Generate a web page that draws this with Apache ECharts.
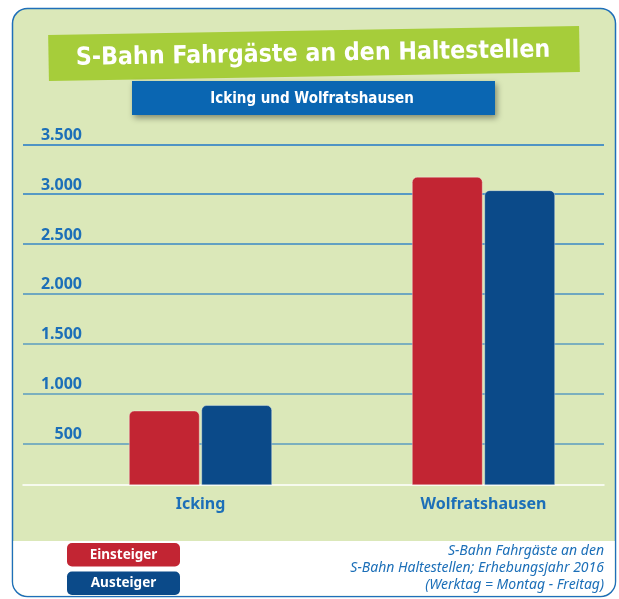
<!DOCTYPE html>
<html>
<head>
<meta charset="utf-8">
<script src="https://cdn.jsdelivr.net/npm/echarts@6/dist/echarts.min.js"></script>
<style>
  html, body { margin: 0; padding: 0; background: #fff; }
  #chart { width: 619px; height: 599px; }
</style>
</head>
<body>
<div id="chart"></div>
<script>
// Daten
var categories = ['Icking', 'Wolfratshausen'];
var seriesNames = ['Einsteiger', 'Austeiger'];
var seriesColors = ['#c22533', '#0b4a89'];
var einsteiger = [830, 3175];
var austeiger = [885, 3040];
var yMax = 3500;
var yStep = 500;
var axisBase = 80;   // Grundlinie der Balken liegt etwas über 0

var titleText = 'S-Bahn Fahrgäste an den Haltestellen';
var subTitleText = 'Icking und Wolfratshausen';
var sourceLines = ['S-Bahn Fahrgäste an den', 'S-Bahn Haltestellen; Erhebungsjahr 2016', '(Werktag = Montag - Freitag)'];

var blue = '#1c6fb8';
var condFont = '"DejaVu Sans Condensed", "DejaVu Sans", sans-serif';

function fmt(v) {
    return String(v).replace(/\B(?=(\d{3})+(?!\d))/g, '.');
}

var myChart = echarts.init(document.getElementById('chart'), null, {renderer: 'canvas'});

// Legende als Kästchen mit Text
var legendItems = seriesNames.map(function (name, i) {
    return {
        type: 'group', left: 67, top: 543 + i * 28.5,
        children: [
            {type: 'rect', shape: {x: 0, y: 0, width: 113, height: 23.5, r: 5},
             style: {fill: seriesColors[i]}},
            {type: 'text', x: 56.5, y: 12,
             style: {text: name, fill: '#fff', font: 'bold 13.5px "Noto Sans"', align: 'center', verticalAlign: 'middle'}}
        ]
    };
});

var sourceItems = sourceLines.map(function (t, i) {
    return {
        type: 'text', x: 604, y: 551.5 + i * 16.8, z: 5,
        style: {text: t, fill: blue, font: 'italic 14px "Noto Sans"', align: 'right', verticalAlign: 'middle'}
    };
});

option = {
    animation: false,
    graphic: [
        {type: 'rect', z: -10, shape: {x: 12.5, y: 8.5, width: 603, height: 588, r: 15},
         style: {fill: '#dbe8b9', stroke: '#1f6fb9', lineWidth: 1.5}},
        {type: 'rect', z: -9, shape: {x: 13.3, y: 541, width: 601.4, height: 54.7, r: [0, 0, 14, 14]},
         style: {fill: '#fff'}},
        {type: 'group', x: 314, y: 53.4, rotation: 0.017, z: 5,
         children: [
             {type: 'rect', shape: {x: -265.5, y: -23, width: 531, height: 46},
              style: {fill: '#a6cd3a'}},
             {type: 'text', x: -1, y: 1,
              style: {text: titleText, fill: '#fff', font: 'bold 24.7px ' + condFont, align: 'center', verticalAlign: 'middle'}}
         ]},
        {type: 'rect', z: 6, shape: {x: 132, y: 81, width: 363, height: 34},
         style: {fill: '#0a66b2', shadowBlur: 6, shadowOffsetX: 2, shadowOffsetY: 3, shadowColor: 'rgba(0,0,0,0.4)'}},
        {type: 'text', z: 7, x: 312, y: 99.5,
         style: {text: subTitleText, fill: '#fff', font: 'bold 15px ' + condFont, align: 'center', verticalAlign: 'middle'}}
    ].concat(legendItems, sourceItems),
    grid: [
        // Raster mit Beschriftung der y-Achse
        {left: 23, right: 15, top: 144.3, bottom: 105.8},
        // Balken: Kategorien liegen auf den Rändern dieses Rasters
        {left: 200.5, width: 283, top: 144.3, bottom: 113.7}
    ],
    xAxis: [
        {type: 'category', gridIndex: 0, data: categories, offset: -8,
         axisLine: {lineStyle: {color: '#ffffff', width: 1.5}},
         axisTick: {show: false}, axisLabel: {show: false}},
        {type: 'category', gridIndex: 1, data: categories, boundaryGap: false,
         axisLine: {show: false}, axisTick: {show: false},
         axisLabel: {color: blue, fontFamily: 'Noto Sans', fontWeight: 'bold', fontSize: 16, margin: 11}}
    ],
    yAxis: [
        {type: 'value', gridIndex: 0, min: 0, max: yMax, interval: yStep,
         axisLine: {show: false}, axisTick: {show: false},
         axisLabel: {inside: true, showMinLabel: false, margin: 59, align: 'right', verticalAlign: 'bottom',
                     padding: [0, 0, 1, 0], lineHeight: 16,
                     color: blue, fontFamily: 'Noto Sans', fontWeight: 'bold', fontSize: 16,
                     formatter: function (v) { return fmt(v); }},
         splitLine: {show: true, showMinLine: false,
                     lineStyle: {width: 1.5, color: ['#5b9cc1', '#5b9cc1', '#5b9cc1', '#4a92c3', '#3a88c6', '#2a7fc8', '#2079c9', '#2479c6']}}},
        {type: 'value', gridIndex: 1, min: axisBase, max: yMax, startValue: axisBase,
         axisLine: {show: false}, axisTick: {show: false}, axisLabel: {show: false}, splitLine: {show: false}}
    ],
    series: [
        {name: seriesNames[0], type: 'bar', xAxisIndex: 1, yAxisIndex: 1, data: einsteiger,
         barWidth: 71, barGap: '2%', clip: false,
         itemStyle: {color: seriesColors[0], borderRadius: [5, 5, 0, 0], borderColor: 'rgba(255,255,255,0.35)', borderWidth: 1}},
        {name: seriesNames[1], type: 'bar', xAxisIndex: 1, yAxisIndex: 1, data: austeiger,
         barWidth: 71, barGap: '2%', clip: false,
         itemStyle: {color: seriesColors[1], borderRadius: [5, 5, 0, 0], borderColor: 'rgba(255,255,255,0.35)', borderWidth: 1}}
    ]
};

myChart.setOption(option);
</script>
</body>
</html>
